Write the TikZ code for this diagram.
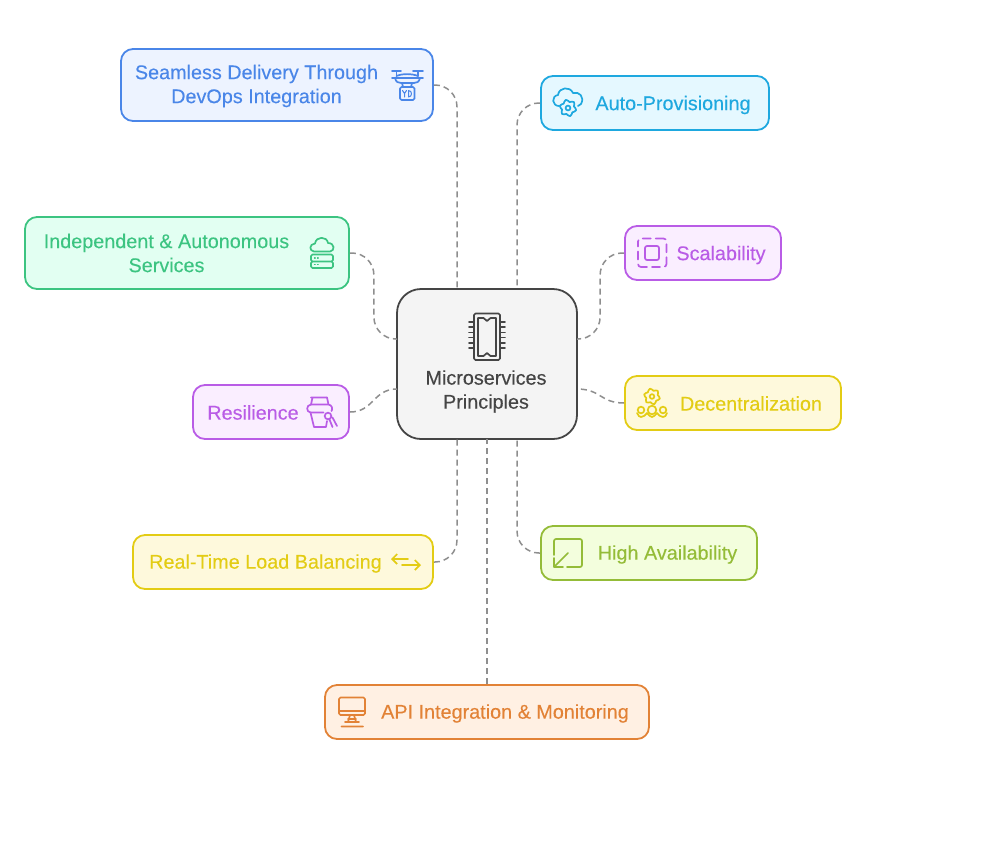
\documentclass[tikz,border=0pt]{standalone}
\usepackage{fontspec}
\setmainfont{Liberation Sans}[FakeBold=0.2]
\usetikzlibrary{arrows.meta}
\definecolor{bluec}{HTML}{4A86E8}
\definecolor{bluef}{HTML}{EDF3FF}
\definecolor{cyanc}{HTML}{1EA8DF}
\definecolor{cyanf}{HTML}{E5F8FF}
\definecolor{purplec}{HTML}{B95CE6}
\definecolor{purplef}{HTML}{FAEEFF}
\definecolor{yellowc}{HTML}{E3CC14}
\definecolor{yellowf}{HTML}{FEF9DC}
\definecolor{limec}{HTML}{94BC38}
\definecolor{limef}{HTML}{F3FEDD}
\definecolor{mintc}{HTML}{3CC481}
\definecolor{mintf}{HTML}{E2FFF2}
\definecolor{orangec}{HTML}{E28236}
\definecolor{orangef}{HTML}{FFF0E3}
\definecolor{corec}{HTML}{454545}
\definecolor{coref}{HTML}{F4F4F4}
\definecolor{linkc}{HTML}{8E8E8E}
\tikzset{
    box/.style={rectangle, rounded corners=12, line width=1.8, inner sep=0},
    caption/.style={align=center, font=\fontsize{19.8}{24}\selectfont, inner sep=0},
    link/.style={draw=linkc, line width=1.5, dash pattern=on 6 off 4, rounded corners=22},
    icon/.style={line width=1.7, line cap=round, line join=round},
}
\newcommand{\gearicon}[4]{% centre x, centre y, radius, colour
    \draw[icon, draw=#4] plot[smooth cycle, domain=0:345, samples=24] ({#1+#3*(1+0.16*sin(6*\x))*cos(\x)}, {#2+#3*(1+0.16*sin(6*\x))*sin(\x)});
    \draw[icon, draw=#4] (#1,#2) circle ({#3*0.33});
}
\begin{document}
\begin{tikzpicture}[x=1pt, y=-1pt]
    \useasboundingbox (0,0) rectangle (998,860);
    % Outer nodes
    \foreach \name/\cx/\cy/\bw/\bh/\col in {
        Seamless/277/85/312/72/blue,
        Auto/655/103/228/54/cyan,
        Indep/187/253/324/72/mint,
        Scale/703/253/156/54/purple,
        Resil/271/412/156/54/purple,
        Decent/733/403/216/54/yellow,
        Balance/283/562/300/54/yellow,
        Avail/649/553/216/54/lime,
        Api/487/712/324/54/orange} {
        \node[box, draw=\col c, fill=\col f, minimum width=\bw, minimum height=\bh] (\name) at (\cx,\cy) {};
    }
    % Centre node
    \node[box, rounded corners=24, draw=corec, fill=coref, minimum width=180, minimum height=150] (Core) at (487,364) {};
    \node[caption, text=corec] (Core-text) at (486,391.5) {Microservices\\Principles};
    % Captions
    \node[caption, text=bluec] (Seamless-text) at (256.5,86) {Seamless Delivery Through\\DevOps Integration};
    \node[caption, text=cyanc] (Auto-text) at (673,105) {Auto-Provisioning};
    \node[caption, text=mintc] (Indep-text) at (166.5,253) {Independent \& Autonomous\\Services};
    \node[caption, text=purplec] (Scale-text) at (721,255) {Scalability};
    \node[caption, text=purplec] (Resil-text) at (253,412.5) {Resilience};
    \node[caption, text=yellowc] (Decent-text) at (751,403.5) {Decentralization};
    \node[caption, text=yellowc] (Balance-text) at (265.5,563.5) {Real-Time Load Balancing};
    \node[caption, text=limec] (Avail-text) at (667.5,554.5) {High Availability};
    \node[caption, text=orangec] (Api-text) at (505,713.5) {API Integration \& Monitoring};
    % Ports on the centre node
    \foreach \name/\px/\py in {n1/457/289,n2/517/289,w1/397/339,w2/397/389,e1/577/339,e2/577/389,s1/457/439,s2/487/439,s3/517/439} {
        \coordinate (Core-\name) at (\px,\py);
    }
    % Connectors
    \draw[link] (Seamless.east) -| (Core-n1);
    \draw[link] (Auto.west) -| (Core-n2);
    \draw[link] (Indep.east) -- ++(24,0) |- (Core-w1);
    \draw[link] (Resil.east) .. controls +(24,0) and +(-24,0) .. (Core-w2);
    \draw[link] (Scale.west) -- ++(-24,0) |- (Core-e1);
    \draw[link] (Decent.west) .. controls +(-24,0) and +(24,0) .. (Core-e2);
    \draw[link] (Balance.east) -| (Core-s1);
    \draw[link] (Api.north) -- (Core-s2);
    \draw[link] (Avail.west) -| (Core-s3);
    % Icon: chip
    \draw[icon, draw=corec, rounded corners=1.5] (474,313.5) rectangle (500,360);
    \draw[icon, draw=corec] (478,318) -- (483.5,318) -- (487,321) -- (490.5,318) -- (496,318) -- (496,356) -- (490.5,356) -- (487,353) -- (483.5,356) -- (478,356) -- cycle;
    \foreach \py in {322,327.2,332.4,337.6,342.8,348} {
        \draw[icon, draw=corec] (469,\py) -- (474,\py) (500,\py) -- (505,\py);
    }
    % Icon: drone
    \draw[icon, draw=bluec] (392,71) -- (401,71) (413,71) -- (423,71) (396.5,71) -- (396.5,76) (418,71) -- (418,76);
    \draw[icon, draw=bluec] (392,78) -- (423,78) (396.5,76) .. controls (402,73.5) and (412,73.5) .. (418,76);
    \draw[icon, draw=bluec] (395,78) .. controls (396,82) and (398,83) .. (401,83) -- (414,83) .. controls (417,83) and (419,82) .. (420,78);
    \draw[icon, draw=bluec] (402,83) -- (403,87) (412,83) -- (411,87);
    \draw[icon, draw=bluec, rounded corners=1.5] (400,87) rectangle (414.5,100);
    \draw[icon, draw=bluec, line width=1] (402.5,90.5) -- (404.5,93.5) -- (406.5,90.5) (404.5,93.5) -- (404.5,97) (408.5,90.5) -- (408.5,97) .. controls (412.5,97) and (412.5,90.5) .. (408.5,90.5);
    % Icon: cloud with gear
    \draw[icon, draw=cyanc] (559,106) .. controls (552,106) and (551,96) .. (558,95) .. controls (559,87) and (570,86) .. (573,93) .. controls (579,91) and (585,97) .. (581,104) -- (578,106);
    \gearicon{568}{108}{7.3}{cyanc}
    % Icon: dashed square
    \draw[icon, draw=purplec, rounded corners=3, dash pattern=on 10 off 5 on 8 off 5, dash phase=5] (638,238.5) rectangle (666.5,267);
    \draw[icon, draw=purplec, rounded corners=2] (645,246) rectangle (659,260);
    % Icon: people with gear
    \gearicon{652}{396.5}{7}{yellowc}
    \foreach \hx/\hr in {641/3.3,652/4.3,663/3.3} {
        \draw[icon, draw=yellowc] (\hx,410) circle (\hr);
    }
    \draw[icon, draw=yellowc] (637,413) .. controls (638,416) and (640,417) .. (641,417) .. controls (644,417) and (645,415) .. (647,413) .. controls (649,415) and (650,417) .. (652,417) .. controls (654,417) and (655,415) .. (657,413) .. controls (659,415) and (660,417) .. (663,417) .. controls (665,417) and (666,416) .. (667,413);
    % Icon: square with arrow
    \draw[icon, draw=limec, rounded corners=2] (554,555) -- (554,539) -- (582,539) -- (582,567) -- (567,567);
    \draw[icon, draw=limec] (568,553) -- (554,567) (554,558) -- (554,567) -- (563,567);
    % Icon: arrows
    \draw[icon, draw=yellowc, -{Straight Barb[length=5, width=10]}] (408,559) -- (391,559);
    \draw[icon, draw=yellowc, -{Straight Barb[length=5, width=10]}] (402,565) -- (421,565);
    % Icon: monitor
    \draw[icon, draw=orangec, rounded corners=1.5] (339,697.5) rectangle (365,715);
    \draw[icon, draw=orangec] (339,711) -- (365,711) (350,715) -- (348,722) (354,715) -- (356,722) (348,719) -- (356,719) (345,722) -- (359,722) (341.5,726.5) -- (363,726.5);
    % Icon: vase
    \draw[icon, draw=purplec] (311,397.5) -- (327,397.5) (312.5,397.5) -- (311,404.5) .. controls (306,405) and (306,412) .. (310.5,412.5) -- (314,427) -- (326,427) -- (327,421);
    \draw[icon, draw=purplec] (327,397.5) -- (328.5,404.5) .. controls (332,405) and (333,409) .. (331.5,411) (311,404.5) -- (328.5,404.5) (310.5,412.5) -- (323.5,412.5);
    \draw[icon, draw=purplec] (328,416) circle (3.3) (329.5,419.5) -- (332.5,427) (332.5,417.5) -- (337,426);
    % Icon: cloud with server
    \draw[icon, draw=mintc] (314,251.5) .. controls (309,251) and (309,244) .. (315,243.5) .. controls (316,236) and (327,236) .. (328,243) .. controls (335,243) and (335,251) .. (330,251.5) -- cycle;
    \draw[icon, draw=mintc, rounded corners=1.5] (311,254.5) rectangle (333,261.5) (311,261.5) rectangle (333,268);
    \draw[icon, draw=mintc, line width=1.2] (314.5,258) -- (315.2,258) (317.5,258) -- (318.2,258) (314.5,264.8) -- (315.2,264.8) (317.5,264.8) -- (318.2,264.8);
\end{tikzpicture}
\end{document}
